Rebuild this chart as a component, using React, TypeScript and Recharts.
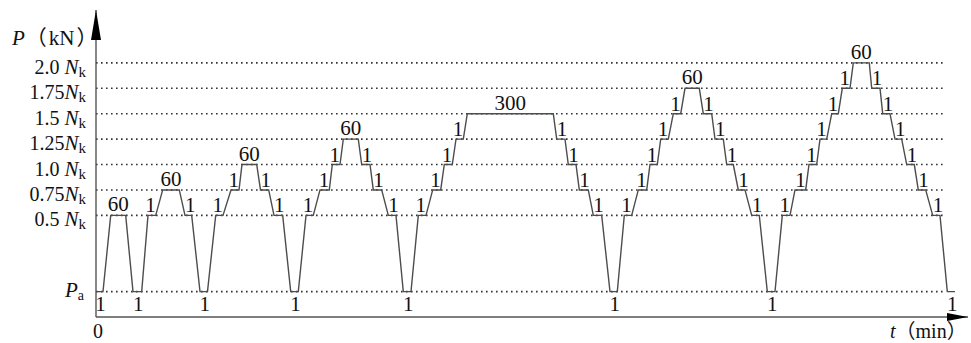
import { ComposedChart, Line, Scatter, XAxis, YAxis, ReferenceLine, ReferenceDot } from "recharts";

// Load levels (in multiples of Nk). Pa is the preload level, drawn below 0.5 Nk.
const PA = -0.25;
const Y_BOTTOM = -0.5;
const Y_TOP = 2.52;
const T_END = 872;

// Load profile: [time, load level]
const cycle1: [number, number][] = [
  [0, PA], [7, PA], [14.7, 0.5], [29.7, 0.5], [37, PA], [45.7, PA],
];
const cycle2: [number, number][] = [
  [52, 0.5], [59.7, 0.5], [66.7, 0.75], [83.3, 0.75], [89, 0.5], [95.7, 0.5], [104, PA], [111.5, PA],
];
const cycle3: [number, number][] = [
  [119.7, 0.5], [127, 0.5], [135, 0.75], [143, 0.75], [146, 1.0], [160.7, 1.0],
  [164.5, 0.75], [172.7, 0.75], [178, 0.5], [186.7, 0.5], [194.7, PA], [202.3, PA],
];
const cycle4: [number, number][] = [
  [210, 0.5], [217.3, 0.5], [224, 0.75], [233.3, 0.75], [236.3, 1.0], [244, 1.0], [247.3, 1.25], [262.3, 1.25],
  [265.7, 1.0], [274, 1.0], [277.3, 0.75], [285.7, 0.75], [292.3, 0.5], [300, 0.5], [307.3, PA], [315, PA],
];
const cycle5: [number, number][] = [
  [322.3, 0.5], [330, 0.5], [336.7, 0.75], [344.7, 0.75], [348.3, 1.0], [356.3, 1.0], [360, 1.25], [367.3, 1.25],
  [371.3, 1.5], [457.3, 1.5],
  [460.7, 1.25], [469, 1.25], [472.3, 1.0], [480, 1.0], [483.3, 0.75], [492.3, 0.75], [497.3, 0.5], [505.7, 0.5],
  [514, PA], [521.3, PA],
];
const cycle6: [number, number][] = [
  [528.3, 0.5], [535.7, 0.5], [542.3, 0.75], [550.7, 0.75], [554, 1.0], [561.3, 1.0], [564.7, 1.25], [572.3, 1.25],
  [577.3, 1.5], [584.7, 1.5], [589, 1.75], [603.3, 1.75],
  [607.3, 1.5], [615.7, 1.5], [619, 1.25], [627.3, 1.25], [630.7, 1.0], [637.3, 1.0], [642.3, 0.75], [649, 0.75],
  [655.7, 0.5], [663.3, 0.5], [671.3, PA], [679, PA],
];
const cycle7: [number, number][] = [
  [686.3, 0.5], [694, 0.5], [699, 0.75], [709.7, 0.75], [713, 1.0], [720.7, 1.0], [724, 1.25], [730.7, 1.25],
  [735.7, 1.5], [742.3, 1.5], [746.3, 1.75], [754, 1.75], [757.3, 2.0], [773.3, 2.0],
  [775.7, 1.75], [784, 1.75], [786.7, 1.5], [794, 1.5], [799, 1.25], [805.7, 1.25], [810.7, 1.0], [818.3, 1.0],
  [822.3, 0.75], [829.7, 0.75], [836.7, 0.5], [844, 0.5], [851.3, PA], [859, PA],
];

// hold time at the top of each cycle (min), step time (min), time at Pa (min)
const holdMinutes = [60, 60, 60, 60, 300, 60, 60];
const stepMinutes = 1;
const paMinutes = 1;

// y axis labels
const tickValues = [2.0, 1.75, 1.5, 1.25, 1.0, 0.75, 0.5];
const tickNumbers = ["2.0 ", "1.75", "1.5 ", "1.25", "1.0 ", "0.75", "0.5 "];
const gridEnd = 847;

const profile = [...cycle1, ...cycle2, ...cycle3, ...cycle4, ...cycle5, ...cycle6, ...cycle7].map(
  ([t, p]) => ({ t, p })
);

// annotations built from the profile
type Note = { t: number; p: number; text: string; kind: string };
const notes: Note[] = [];
let peakNo = 0;
for (let i = 0; i < profile.length - 1; i++) {
  const a = profile[i];
  const b = profile[i + 1];
  if (a.p >= 0.5 && b.p >= 0.5 && a.p !== b.p) {
    if (b.p > a.p) notes.push({ t: a.t, p: a.p, text: String(stepMinutes), kind: "up" });
    else notes.push({ t: b.t, p: b.p, text: String(stepMinutes), kind: "down" });
  } else if (a.p === PA && b.p === PA) {
    notes.push({ t: (a.t + b.t) / 2, p: PA, text: String(paMinutes), kind: "pa" });
  } else if (a.p === b.p && a.p >= 0.5) {
    const prev = profile[i - 1];
    const next = profile[i + 2];
    if (prev && next && prev.p < a.p && next.p < a.p) {
      notes.push({ t: (a.t + b.t) / 2, p: a.p, text: String(holdMinutes[peakNo]), kind: "peak" });
      peakNo++;
    }
  }
}

const FONT = "'Liberation Serif', 'Times New Roman', 'Noto Sans CJK SC', serif";
const INK = "#111";

function NoteShape(props: any) {
  const { cx, cy, payload } = props;
  const k = payload.kind;
  let x = cx;
  let y = cy - 3;
  let anchor = "middle";
  if (k === "up") anchor = "end";
  if (k === "down") anchor = "start";
  if (k === "peak") y = cy - 4;
  if (k === "pa") {
    y = cy + 19;
    x = cx + 1;
  }
  return (
    <text x={x} y={y} textAnchor={anchor} fontFamily={FONT} fontSize={21} fill={INK}>
      {payload.text}
    </text>
  );
}

function LoadTick(props: any) {
  const { x, y, payload } = props;
  if (payload.value === PA) {
    return (
      <text x={x - 2} y={y + 5} textAnchor="end" fontFamily={FONT} fontSize={21} fill={INK}>
        <tspan fontStyle="italic">P</tspan>
        <tspan fontSize={14} dy={3}>a</tspan>
      </text>
    );
  }
  const i = tickValues.indexOf(payload.value);
  return (
    <text x={x} y={y + 11} textAnchor="end" fontFamily={FONT} fontSize={20} fill={INK} style={{ whiteSpace: "pre" }}>
      <tspan>{tickNumbers[i]}</tspan>
      <tspan fontStyle="italic" fontSize={21}>N</tspan>
      <tspan fontSize={15} dy={3}>k</tspan>
    </text>
  );
}

function YArrow(props: any) {
  const { cx, cy } = props;
  return (
    <g>
      <polygon points={`${cx},${cy} ${cx - 5},${cy + 30} ${cx + 5},${cy + 30}`} fill="#000" />
      <text x={cx - 84} y={cy + 35} textAnchor="start" fontFamily={FONT} fontSize={21} fill={INK}>
        <tspan fontStyle="italic">P</tspan>
        <tspan dx={1}>（</tspan>
        <tspan dx={2}>kN</tspan>
        <tspan dx={2}>）</tspan>
      </text>
    </g>
  );
}

function XArrow(props: any) {
  const { cx, cy } = props;
  return (
    <g>
      <polygon points={`${cx},${cy} ${cx - 21},${cy - 4} ${cx - 21},${cy + 4}`} fill="#000" />
      <text x={cx - 78} y={cy + 21} textAnchor="start" fontFamily={FONT} fontSize={20} fill={INK}>
        <tspan fontStyle="italic">t</tspan>
        <tspan>（</tspan>
        <tspan>min</tspan>
        <tspan>）</tspan>
      </text>
    </g>
  );
}

function Origin(props: any) {
  const { cx, cy } = props;
  return (
    <text x={cx + 2} y={cy + 21} textAnchor="middle" fontFamily={FONT} fontSize={20} fill={INK}>
      0
    </text>
  );
}

const gridLevels = [PA, ...tickValues];

export default function App() {
  return (
    <div style={{ position: "absolute", left: 0, top: 0, background: "#fff" }}>
      <ComposedChart width={971} height={343} margin={{ top: 10, right: 3, bottom: 0, left: 0 }}>
        <XAxis
          type="number"
          dataKey="t"
          domain={[0, T_END]}
          allowDataOverflow
          tick={false}
          tickLine={false}
          height={26}
          axisLine={{ stroke: "#555", strokeWidth: 1.4 }}
        />
        <YAxis
          type="number"
          dataKey="p"
          domain={[Y_BOTTOM, Y_TOP]}
          allowDataOverflow
          ticks={gridLevels}
          interval={0}
          tick={<LoadTick />}
          tickLine={false}
          tickMargin={4}
          width={96}
          axisLine={{ stroke: "#555", strokeWidth: 1.4 }}
        />
        {gridLevels.map((lvl) => (
          <ReferenceLine
            key={lvl}
            segment={[{ x: 0, y: lvl }, { x: gridEnd, y: lvl }]}
            stroke="#333"
            strokeWidth={1.6}
            strokeDasharray="1.6 3.4"
          />
        ))}
        <Line
          data={profile}
          dataKey="p"
          type="linear"
          stroke="#4d4d4d"
          strokeWidth={1.4}
          dot={false}
          activeDot={false}
          isAnimationActive={false}
        />
        <Scatter data={notes} dataKey="p" shape={<NoteShape />} isAnimationActive={false} />
        <ReferenceDot x={0} y={Y_TOP} r={0} shape={<YArrow />} />
        <ReferenceDot x={T_END} y={Y_BOTTOM} r={0} shape={<XArrow />} />
        <ReferenceDot x={0} y={Y_BOTTOM} r={0} shape={<Origin />} />
      </ComposedChart>
    </div>
  );
}
